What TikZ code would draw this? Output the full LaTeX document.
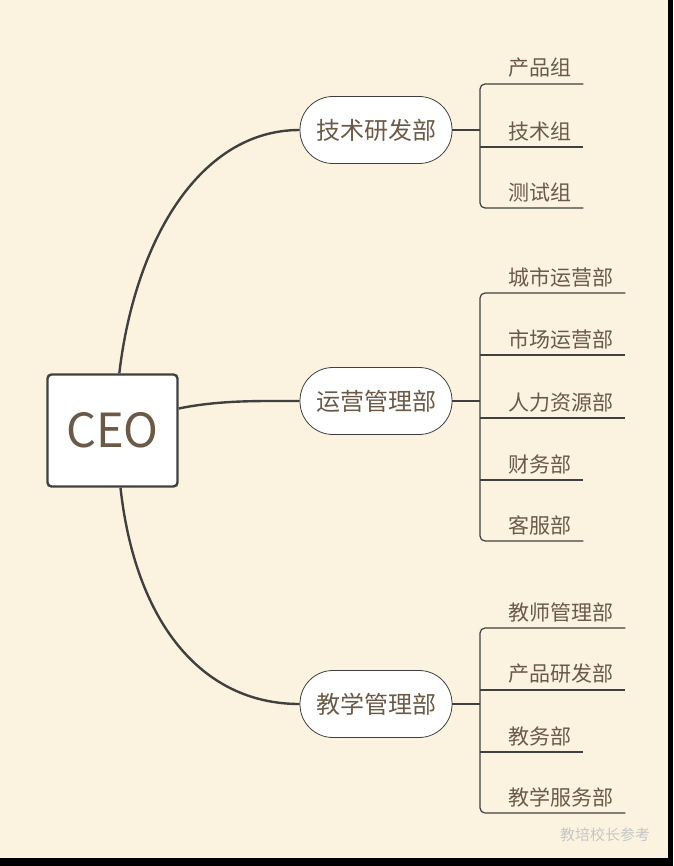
\documentclass[tikz,border=0pt]{standalone}
\usepackage{fontspec}
\setmainfont{Noto Sans CJK SC}
\definecolor{paper}{HTML}{FBF3DF}
\definecolor{ink}{HTML}{6B5A48}
\definecolor{wire}{HTML}{404040}
\tikzset{
  wire/.style={draw=wire, line width=2.4pt},
  dept/.style={draw=wire, line width=0.8pt, fill=white, rounded corners=33, minimum width=152, minimum height=67, inner sep=0, text=ink, font=\fontsize{24}{24}\selectfont},
  leaf/.style={anchor=south west, inner xsep=0, inner ysep=6, text=ink, font=\fontsize{21}{21}\selectfont},
  under/.style={draw=wire, line width=1.2pt, rounded corners=5}
}
\begin{document}
\begin{tikzpicture}[x=1pt,y=-1pt]
\fill[black] (0,0) rectangle (673,866);
\fill[paper] (0,0) rectangle (668,858);
\useasboundingbox (0,0) rectangle (673,866);
% root
\node[draw=wire, line width=2.4pt, fill=white, rounded corners=4, minimum width=130, minimum height=112, text=ink, font=\fontsize{47}{47}\selectfont] (ceo) at (112.5,430.5) {CEO};
% departments
\node[dept] (d1) at (376,130) {技术研发部};
\node[dept] (d2) at (376,401) {运营管理部};
\node[dept] (d3) at (376,704) {教学管理部};
\draw[wire] ([xshift=8]ceo.north west) ++(65,0) coordinate (c1) (c1) .. controls (135,240) and (200,130) .. (d1.west);
\draw[wire] (ceo.east) ++(0,-22) coordinate (c2) (c2) .. controls (220,400) and (260,401) .. (d2.west);
\draw[wire] (ceo.south) ++(8,0) coordinate (c3) (c3) .. controls (135,620) and (200,704) .. (d3.west);
% group 1
\node[leaf] (a1) at (508,84) {产品组};
\node[leaf] (a2) at (508,147) {技术组};
\node[leaf] (a3) at (508,208) {测试组};
\coordinate (j1) at (480,130);
\draw[wire, line width=1.6pt] (d1.east) -- (j1);
\draw[under] ([xshift=12]a1.south east) -- (480,84) -- (480,208) -- ([xshift=12]a3.south east);
\draw[under] (480,147) -- ([xshift=12]a2.south east);
% group 2
\node[leaf] (b1) at (508,293) {城市运营部};
\node[leaf] (b2) at (508,355) {市场运营部};
\node[leaf] (b3) at (508,418) {人力资源部};
\node[leaf] (b4) at (508,480) {财务部};
\node[leaf] (b5) at (508,541) {客服部};
\coordinate (j2) at (480,401);
\draw[wire, line width=1.6pt] (d2.east) -- (j2);
\draw[under] ([xshift=12]b1.south east) -- (480,293) -- (480,541) -- ([xshift=12]b5.south east);
\foreach \n/\y in {b2/355,b3/418,b4/480}
  \draw[under] (480,\y) -- ([xshift=12]\n.south east);
% group 3
\node[leaf] (e1) at (508,628) {教师管理部};
\node[leaf] (e2) at (508,690) {产品研发部};
\node[leaf] (e3) at (508,752) {教务部};
\node[leaf] (e4) at (508,813) {教学服务部};
\coordinate (j3) at (480,704);
\draw[wire, line width=1.6pt] (d3.east) -- (j3);
\draw[under] ([xshift=12]e1.south east) -- (480,628) -- (480,813) -- ([xshift=12]e4.south east);
\foreach \n/\y in {e2/690,e3/752}
  \draw[under] (480,\y) -- ([xshift=12]\n.south east);
% watermark
\node[text=white!55!gray, font=\fontsize{15}{15}\selectfont] (mark) at (605,835) {教培校长参考};
\end{tikzpicture}
\end{document}
